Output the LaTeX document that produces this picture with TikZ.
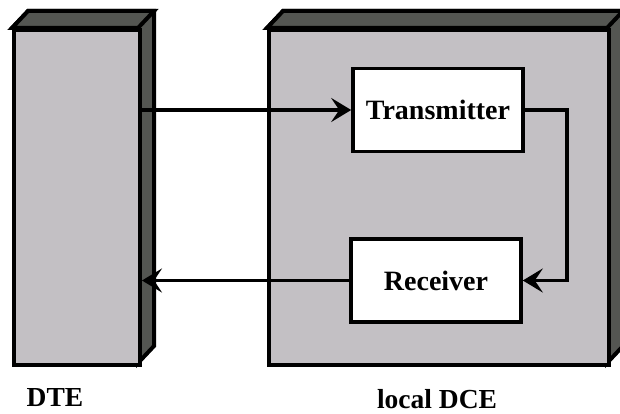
\documentclass[tikz,border=0pt]{standalone}
\usepackage{fontspec}
\setmainfont{Liberation Serif}
\usetikzlibrary{arrows.meta}
\definecolor{facelight}{HTML}{C3C0C4}
\definecolor{facedark}{HTML}{545652}
\begin{document}
\begin{tikzpicture}[x=1pt,y=-1pt,
  frontface/.style={draw=black, line width=4pt, fill=facelight, rectangle, anchor=north west, inner sep=0pt, line join=miter},
  darkface/.style={draw=black, line width=4pt, fill=facedark, line join=miter},
  unitbox/.style={draw=black, line width=3.6pt, fill=white, rectangle, inner sep=0pt, minimum width=170pt, minimum height=83pt, font=\fontsize{28}{30}\selectfont\bfseries},
  conn/.style={draw=black, line width=3.2pt},
  tip/.style={-{Stealth[length=20pt,width=24pt,inset=8pt]}},
  lab/.style={anchor=base, font=\fontsize{27.5}{30}\selectfont\bfseries}
]
\useasboundingbox (0,0) rectangle (620,414);
% DTE cabinet
\coordinate (dtenw) at (12,28);
\draw[darkface] (12,28) -- ++(16,-17) -- ++(126,0) -- ++(0,335) -- (138,363) -- (138,28) -- cycle;
\draw[darkface] (12,28) -- ++(16,-17) -- ++(126,0) -- (138,28) -- cycle;
\node[frontface, minimum width=126pt, minimum height=335pt] (dte) at (dtenw) {};
% DCE cabinet
\draw[darkface] (267,28) -- ++(16,-17) -- ++(340,0) -- ++(0,335) -- (607,363) -- (607,28) -- cycle;
\draw[darkface] (267,28) -- ++(16,-17) -- ++(340,0) -- (607,28) -- cycle;
\node[frontface, minimum width=340pt, minimum height=335pt] (dce) at (267,28) {};
% units
\node[unitbox] (tx) at (438,110) {Transmitter};
\node[unitbox] (rx) at (436,280.5) {Receiver};
% connectors
\draw[conn, tip] (tx.west -| dte.east) -- (tx.west);
\coordinate (loop) at (567,110);
\draw[conn, tip] (tx.east) -- (loop) |- (rx.east);
\draw[conn, tip] (rx.west) -- (rx.west -| dte.east);
% labels
\node[lab] (dtelab) at (55,406) {DTE};
\node[lab] (dcelab) at (437,408) {local DCE};
\end{tikzpicture}
\end{document}
